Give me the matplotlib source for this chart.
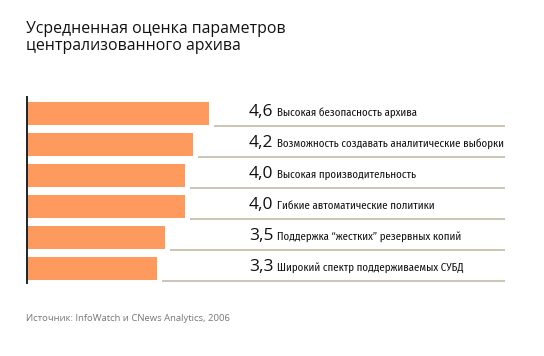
import matplotlib.pyplot as plt
import numpy as np

# данные
labels = ["Высокая безопасность архива",
          "Возможность создавать аналитические выборки",
          "Высокая производительность",
          "Гибкие автоматические политики",
          "Поддержка \u201cжестких\u201d резервных копий",
          "Широкий спектр поддерживаемых СУБД"]
values = [4.6, 4.2, 4.0, 4.0, 3.5, 3.3]
value_text = ["4,6", "4,2", "4,0", "4,0", "3,5", "3,3"]

title_lines = ["Усредненная оценка параметров", "централизованного архива"]
source = "Источник: InfoWatch и CNews Analytics, 2006"

W, H = 544, 356
fig = plt.figure(figsize=(W / 100, H / 100), dpi=100)

narrow = ['Fira Sans Condensed', 'DejaVu Sans']
main = ['Open Sans', 'DejaVu Sans']

# ось: 1 единица = 39.5 px, начало в x=27
left = 27
scale = 39.5
ax = fig.add_axes([left / W, 73 / H, (W - left) / W, 186 / H])
ax.set_xlim(0, (W - left) / scale)
ax.set_ylim(5.47, -0.53)

y = np.arange(len(values))
ax.barh(y, values, height=0.74, color='#ff9a5e', zorder=2)

for i, v in enumerate(values):
    ax.plot([v + 0.13, 12.1], [i + 0.39, i + 0.39], color='#c4bba8', lw=1.2,
            solid_capstyle='butt')
    ax.text(5.62, i + 0.07, value_text[i], fontsize=12.5, family=main,
            va='baseline', ha='left', color='#111')
    ax.text(6.33, i + 0.07, labels[i], fontsize=7.9, family=narrow,
            va='baseline', ha='left', color='#111')

for s in ['top', 'right', 'bottom']:
    ax.spines[s].set_visible(False)
ax.spines['left'].set_color('#222')
ax.spines['left'].set_linewidth(1.4)
ax.set_xticks([])
ax.set_yticks([])
ax.patch.set_visible(False)

fig.text(26 / W, 1 - 33 / H, title_lines[0], fontsize=11.4,
         family=main, va='baseline', color='#111')
fig.text(26 / W, 1 - 50 / H, title_lines[1], fontsize=11.4,
         family=main, va='baseline', color='#111')
fig.text(26 / W, 1 - 321 / H, source, fontsize=6.8, family=main,
         va='baseline', color='#777')

fig.savefig('out.png', dpi=100)
